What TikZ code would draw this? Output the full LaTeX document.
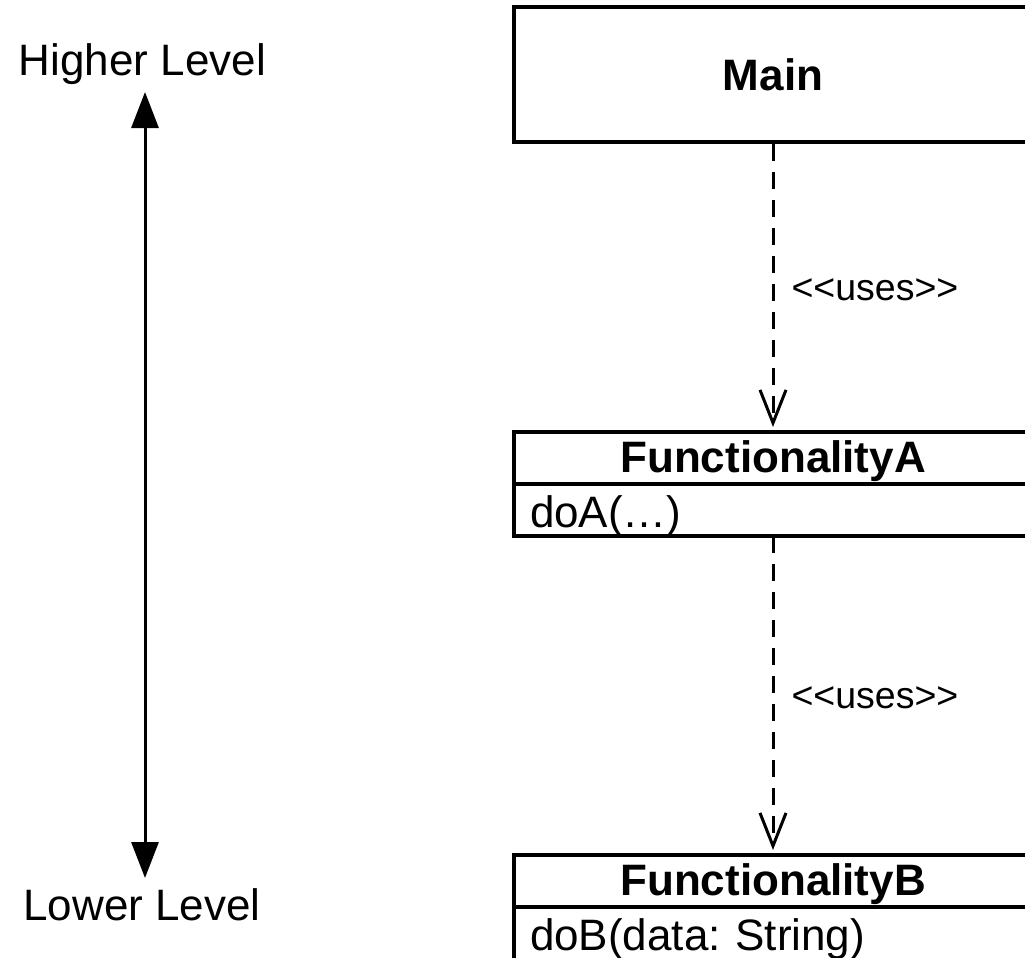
\documentclass[tikz,border=0pt]{standalone}
\usepackage{fontspec}
\setmainfont{Liberation Sans}
\usetikzlibrary{arrows.meta}
\frenchspacing
\newcommand{\usesmark}{<\kern0pt<uses>\kern0pt>}
\begin{document}
\begin{tikzpicture}[x=1pt,y=-1pt,
  bigfont/.style={font=\fontsize{44}{50}\selectfont},
  boldfont/.style={font=\fontsize{44}{50}\selectfont\bfseries},
  mainbox/.style={draw, line width=3.2pt, rectangle, boldfont,
    minimum width=518pt, minimum height=135pt, inner sep=0pt},
  titlepart/.style={draw, line width=3.2pt, rectangle, boldfont, outer sep=0pt,
    text width=486pt, align=center, inner xsep=16pt, inner ysep=0pt,
    text height=40pt, text depth=12pt},
  methodpart/.style={draw, line width=3.2pt, rectangle, bigfont, outer sep=0pt,
    text width=486pt, align=left, inner xsep=16pt, inner ysep=3pt,
    text height=40pt, text depth=6pt},
  uses/.style={-{Straight Barb[length=33pt,width=26pt,line width=3pt]},
    line width=3pt, dash pattern=on 17pt off 11pt, shorten >=5pt},
  useslabel/.style={font=\fontsize{37.5}{42}\selectfont, inner sep=0pt,
    anchor=base west, xshift=17pt, yshift=-13pt},
  levelarrow/.style={{Triangle[length=36pt,width=27pt]}-{Triangle[length=36pt,width=27pt]},
    line width=3pt},
  leveltext/.style={bigfont, inner sep=0pt, anchor=base}
]
\clip (0,0) rectangle (1025,958);

% level scale on the left
\node[leveltext] (higher) at (142.5,76) {Higher Level};
\node[leveltext] (lower) at (142,920) {Lower Level};
\coordinate (hitip) at (145,92);
\coordinate (lotip) at (145,878);
\draw[levelarrow] (hitip) -- (lotip);

% classes
\node[mainbox] (main) at (773,74.5) {Main};

\node[titlepart, anchor=north] (fa) at (773,432) {FunctionalityA};
\node[methodpart, anchor=north] (fam) at (fa.south) {doA(…)};

\node[titlepart, anchor=north] (fb) at (773,855) {FunctionalityB};
\node[methodpart, anchor=north, text depth=10pt] (fbm) at (fb.south) {doB(data: String)};

% dependencies
\draw[uses] (main.south) -- node[useslabel] {\usesmark} (fa.north);
\draw[uses] (fam.south) -- node[useslabel] {\usesmark} (fb.north);
\end{tikzpicture}
\end{document}
